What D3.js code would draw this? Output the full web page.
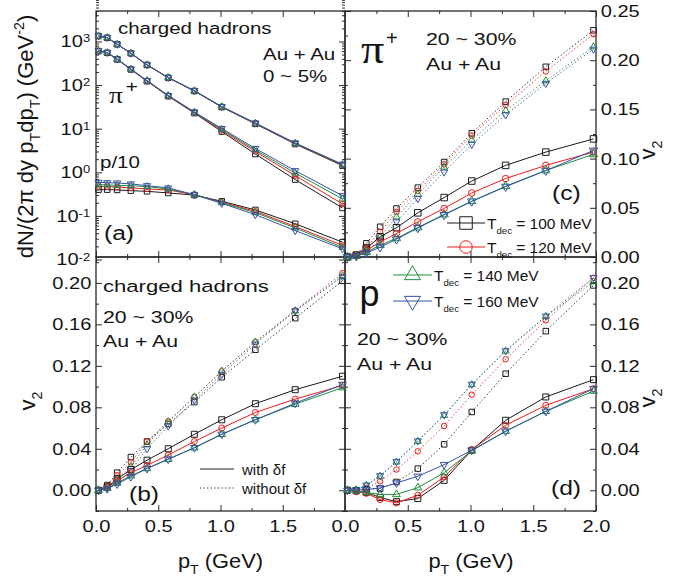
<!DOCTYPE html>
<html>
<head>
<meta charset="utf-8">
<script src="https://cdn.jsdelivr.net/npm/d3@7"></script>
<style>
  body { margin: 0; background: #fff; }
  text { font-family: "Liberation Sans", Arial, sans-serif; fill: #141414; }
</style>
</head>
<body>
<svg id="grafica" width="689" height="576"></svg>
<script>
// valores de pT comunes a todas las curvas
var pT = [0.02, 0.09, 0.17, 0.28, 0.41, 0.58, 0.79, 1.01, 1.28, 1.6, 1.98];

var temperaturas = ["100", "120", "140", "160"];
var colores = ["#1a1a1a", "#f01a1a", "#1f8f3a", "#3552a8"];
var simbolos = ["cuadrado", "circulo", "triangulo", "trianguloAbajo"];

// (a) espectros, un array por temperatura
var espectroHadrones = [
    [1330, 1215, 860, 535, 289, 147, 73, 31.3, 12.9, 4.45, 1.42],
    [1335, 1220, 862, 536, 290, 148, 73.5, 31.6, 13.1, 4.55, 1.46],
    [1340, 1225, 865, 538, 291, 148.5, 74, 31.9, 13.3, 4.62, 1.5],
    [1345, 1230, 868, 540, 292, 149, 74.5, 32.2, 13.5, 4.7, 1.53]
];
var espectroPion = [
    [600, 550, 388, 228, 123, 55.6, 22.8, 8.6, 2.62, 0.68, 0.152],
    [604, 553, 391, 230, 124.5, 56.6, 23.4, 9.1, 3.0, 0.84, 0.188],
    [608, 556, 393, 232, 126, 57.3, 23.8, 9.6, 3.24, 0.96, 0.245],
    [612, 559, 396, 234, 127, 58, 24.2, 10.1, 3.52, 1.09, 0.29]
];
var espectroProton = [
    [0.40, 0.40, 0.394, 0.379, 0.366, 0.336, 0.30, 0.216, 0.137, 0.066, 0.025],
    [0.475, 0.47, 0.461, 0.438, 0.415, 0.394, 0.305, 0.207, 0.127, 0.057, 0.021],
    [0.52, 0.515, 0.501, 0.493, 0.468, 0.415, 0.31, 0.201, 0.119, 0.053, 0.019],
    [0.588, 0.578, 0.569, 0.54, 0.493, 0.438, 0.305, 0.194, 0.107, 0.046, 0.0176]
];

// (b) v2 hadrones cargados
var v2HadronesConDf = [
    [0.0, 0.003, 0.011, 0.020, 0.029, 0.040, 0.054, 0.068, 0.0835, 0.097, 0.110],
    [0.0, 0.003, 0.009, 0.017, 0.024, 0.034, 0.047, 0.060, 0.075, 0.088, 0.101],
    [0.0, 0.002, 0.007, 0.014, 0.021, 0.030, 0.041, 0.054, 0.068, 0.083, 0.099],
    [0.0, 0.0015, 0.006, 0.013, 0.021, 0.030, 0.041, 0.054, 0.068, 0.084, 0.102]
];
var v2HadronesSinDf = [
    [0.0, 0.005, 0.017, 0.032, 0.047, 0.064, 0.085, 0.109, 0.1355, 0.166, 0.202],
    [0.0, 0.004, 0.0145, 0.027, 0.047, 0.0665, 0.090, 0.1147, 0.143, 0.1735, 0.2095],
    [0.0, 0.003, 0.011, 0.023, 0.044, 0.066, 0.090, 0.115, 0.143, 0.173, 0.207],
    [0.0, 0.002, 0.008, 0.019, 0.040, 0.062, 0.087, 0.112, 0.141, 0.173, 0.206]
];

// (c) v2 piones
var v2PionConDf = [
    [0.0, 0.002, 0.009, 0.0205, 0.0297, 0.0449, 0.0604, 0.0772, 0.0931, 0.1066, 0.120],
    [0.0, 0.0015, 0.007, 0.015, 0.024, 0.0357, 0.0493, 0.0651, 0.0797, 0.0931, 0.1066],
    [0.0, 0.001, 0.005, 0.012, 0.019, 0.030, 0.0432, 0.0567, 0.0719, 0.088, 0.1043],
    [0.0, 0.001, 0.004, 0.010, 0.018, 0.0295, 0.0428, 0.0565, 0.0715, 0.0878, 0.1083]
];
var v2PionSinDf = [
    [0.0, 0.002, 0.0139, 0.0307, 0.0493, 0.0705, 0.0965, 0.1258, 0.1579, 0.1933, 0.2304],
    [0.0, 0.0015, 0.0104, 0.0256, 0.0459, 0.0671, 0.0941, 0.1235, 0.1545, 0.1886, 0.2264],
    [0.0, 0.001, 0.0078, 0.0205, 0.0408, 0.0638, 0.0914, 0.119, 0.1488, 0.1791, 0.2136],
    [0.0, 0.001, 0.0054, 0.0172, 0.0357, 0.0594, 0.0863, 0.1144, 0.1444, 0.1764, 0.2112]
];

// (d) v2 protones
var v2ProtonConDf = [
    [0.0, -0.0005, -0.002, -0.007, -0.011, -0.008, 0.0096, 0.0386, 0.0675, 0.090, 0.1067],
    [0.0, -0.0015, -0.003, -0.009, -0.0122, -0.0048, 0.0128, 0.0392, 0.0627, 0.0819, 0.098],
    [0.0, -0.0005, -0.002, -0.004, -0.004, 0.0025, 0.017, 0.038, 0.057, 0.0761, 0.0957],
    [0.0, 0.0002, 0.0007, 0.0022, 0.007, 0.0135, 0.0247, 0.0386, 0.0569, 0.0761, 0.098]
];
var v2ProtonSinDf = [
    [0.0, 0.0, 0.001, 0.0016, 0.008, 0.0209, 0.0443, 0.0755, 0.1124, 0.1535, 0.1976],
    [0.0, 0.0005, 0.0022, 0.0087, 0.020, 0.0376, 0.062, 0.0922, 0.1263, 0.1639, 0.205],
    [0.0, 0.0005, 0.0048, 0.0135, 0.0273, 0.0472, 0.0723, 0.1019, 0.1343, 0.1677, 0.201],
    [0.0, 0.0005, 0.005, 0.014, 0.0276, 0.0476, 0.0728, 0.1022, 0.1345, 0.168, 0.205]
];

// marcas de los ejes
var xMayores = [0, 0.5, 1, 1.5, 2];
var xMenores = [0.25, 0.75, 1.25, 1.75];
var xEtiqIzq = [0, 0.5, 1, 1.5];
var logMayores = [0.01, 0.1, 1, 10, 100, 1000];
var v2Mayores = [0, 0.04, 0.08, 0.12, 0.16, 0.2];
var v2Menores = [-0.02, 0.02, 0.06, 0.1, 0.14, 0.18, 0.22];
var v2PionMayores = [0, 0.05, 0.1, 0.15, 0.2, 0.25];
var v2PionMenores = [0.025, 0.075, 0.125, 0.175, 0.225];

var logMenores = [];
[0.01, 0.1, 1, 10, 100, 1000].forEach(function (b) {
    for (var k = 2; k <= 9; k++) logMenores.push(b * k);
});

var svg = d3.select("#grafica");
var colorEje = "#2a2a2a";
var arriba = 11, medio = 257, abajo = 511;
var izq = 96, centro = 345, der = 596;

var xIzq = d3.scaleLinear().domain([0, 2]).range([izq, centro]);
var xDer = d3.scaleLinear().domain([0, 2]).range([centro, der]);
var yA = d3.scaleLog().domain([0.01, 5000]).range([259.5, arriba]);
var yB = d3.scaleLinear().domain([-0.02, 0.225]).range([abajo, medio]);
var yC = d3.scaleLinear().domain([0, 0.25]).range([medio, arriba]);
var yD = yB.copy();

// texto con sub/superindices; se estira en x como en la figura original
function escribir(x, y, partes, o) {
    var tr = "translate(" + x + "," + y + ") scale(" + (o.sx || 1) + ",1)";
    if (o.rot) tr += " rotate(" + o.rot + ")";
    var t = svg.append("g").attr("transform", tr)
        .append("text")
        .attr("font-size", o.size)
        .attr("text-anchor", o.anchor || "start");
    if (o.familia) t.style("font-family", o.familia);
    var previo = 0;
    partes.forEach(function (p) {
        var tipo = p[1] || "";
        var nuevo = tipo === "sub" ? 0.3 * o.size : (tipo === "sup" ? -0.42 * o.size : 0);
        t.append("tspan")
            .attr("dy", nuevo - previo)
            .attr("font-size", tipo ? o.size * (o.escalaSub || 0.65) : o.size)
            .text(p[0]);
        previo = nuevo;
    });
}

function eje(generador, pos, valores, tam, fmt, relleno) {
    var g = svg.append("g").attr("transform", pos);
    generador.tickValues(valores).tickSize(-tam).tickPadding(relleno || 4)
        .tickFormat(fmt || "");
    g.call(generador);
    g.select(".domain").remove();
    g.selectAll("line").attr("stroke", colorEje).attr("stroke-width", 1);
    g.selectAll("text")
        .attr("font-size", 17)
        .attr("fill", "#141414")
        .style("font-family", '"Liberation Sans", Arial, sans-serif')
        .attr("transform", "scale(1.18,1)");
    return g;
}

var f1 = d3.format(".1f");
var f2 = d3.format(".2f");

function ejesX(x, yArr, yAb, conEtiquetas, etiq) {
    eje(d3.axisTop(x), "translate(0," + yArr + ")", xMayores, 6);
    eje(d3.axisTop(x), "translate(0," + yArr + ")", xMenores, 3);
    eje(d3.axisBottom(x), "translate(0," + yAb + ")", xMayores, 6,
        conEtiquetas ? function (d) { return etiq.indexOf(d) >= 0 ? f1(d) : ""; } : null, 9);
    eje(d3.axisBottom(x), "translate(0," + yAb + ")", xMenores, 3);
}

// marcos
[[izq, arriba, centro, medio], [centro, arriba, der, medio],
 [izq, medio, centro, abajo], [centro, medio, der, abajo]].forEach(function (r) {
    svg.append("rect")
        .attr("x", r[0]).attr("y", r[1])
        .attr("width", r[2] - r[0]).attr("height", r[3] - r[1])
        .attr("fill", "none").attr("stroke", colorEje).attr("stroke-width", 1.3);
});

// ejes panel (a)
ejesX(xIzq, arriba, medio, false);
var ejeLog = eje(d3.axisLeft(yA), "translate(" + izq + ",0)", logMayores, 6, null, 5);
ejeLog.selectAll(".tick text").each(function (d) {
    var t = d3.select(this);
    t.append("tspan").text("10");
    t.append("tspan").attr("dy", "-0.45em").attr("font-size", 11)
        .text(String(Math.round(Math.log10(d))));
});
eje(d3.axisLeft(yA), "translate(" + izq + ",0)", logMenores, 3);
eje(d3.axisRight(yA), "translate(" + centro + ",0)", logMayores, 6);
eje(d3.axisRight(yA), "translate(" + centro + ",0)", logMenores, 3);

// ejes panel (b)
ejesX(xIzq, medio, abajo, true, xEtiqIzq);
eje(d3.axisLeft(yB), "translate(" + izq + ",0)", v2Mayores, 6, f2);
eje(d3.axisLeft(yB), "translate(" + izq + ",0)", v2Menores, 3);
eje(d3.axisRight(yB), "translate(" + centro + ",0)", v2Mayores, 6);
eje(d3.axisRight(yB), "translate(" + centro + ",0)", v2Menores, 3);

// ejes panel (c)
ejesX(xDer, arriba, medio, false);
eje(d3.axisLeft(yC), "translate(" + centro + ",0)", v2PionMayores, 6);
eje(d3.axisLeft(yC), "translate(" + centro + ",0)", v2PionMenores, 3);
eje(d3.axisRight(yC), "translate(" + der + ",0)", v2PionMayores, 6, f2);
eje(d3.axisRight(yC), "translate(" + der + ",0)", v2PionMenores, 3);

// ejes panel (d)
ejesX(xDer, medio, abajo, true, xMayores);
eje(d3.axisLeft(yD), "translate(" + centro + ",0)", v2Mayores, 6);
eje(d3.axisLeft(yD), "translate(" + centro + ",0)", v2Menores, 3);
eje(d3.axisRight(yD), "translate(" + der + ",0)", v2Mayores, 6, f2);
eje(d3.axisRight(yD), "translate(" + der + ",0)", v2Menores, 3);

// simbolos
function formaSimbolo(tipo, d) {
    if (tipo === "cuadrado") return d3.symbol(d3.symbolSquare, d * d)();
    if (tipo === "circulo") return d3.symbol(d3.symbolCircle, Math.PI * d * d / 4)();
    var r = d / 2.7;
    return d3.symbol(d3.symbolTriangle, r * r * 3 * Math.sqrt(3))();
}

function ponerSimbolo(g, tipo, cx, cy, d, color) {
    g.append("path")
        .attr("d", formaSimbolo(tipo, d))
        .attr("transform", "translate(" + cx + "," + cy + ")" + (tipo === "trianguloAbajo" ? " rotate(180)" : ""))
        .attr("fill", "none")
        .attr("stroke", color)
        .attr("stroke-width", 1);
}

function curvas(x, y, series, punteado, tam) {
    var g = svg.append("g");
    var linea = d3.line()
        .x(function (d, i) { return x(pT[i]); })
        .y(function (d) { return y(d); });
    series.forEach(function (valores, k) {
        g.append("path")
            .attr("d", linea(valores))
            .attr("fill", "none")
            .attr("stroke", colores[k])
            .attr("stroke-width", 1)
            .attr("stroke-dasharray", punteado ? "1.2,2.4" : null);
        valores.forEach(function (v, i) {
            ponerSimbolo(g, simbolos[k], x(pT[i]), y(v), tam, colores[k]);
        });
    });
}

// panel (a)
curvas(xIzq, yA, espectroHadrones, false, 5.5);
curvas(xIzq, yA, espectroPion, false, 5.5);
curvas(xIzq, yA, espectroProton, false, 5.5);
// panel (b)
curvas(xIzq, yB, v2HadronesSinDf, true, 5.5);
curvas(xIzq, yB, v2HadronesConDf, false, 6);
// panel (c)
curvas(xDer, yC, v2PionSinDf, true, 5.5);
curvas(xDer, yC, v2PionConDf, false, 6.5);
// panel (d)
curvas(xDer, yD, v2ProtonSinDf, true, 5.5);
curvas(xDer, yD, v2ProtonConDf, false, 6);

// leyenda de temperaturas (repartida entre (c) y (d))
var leyenda = [
    { x0: 447, x1: 485, y: 223, tx: 487 },
    { x0: 447, x1: 485, y: 247, tx: 487 },
    { x0: 393, x1: 432, y: 275, tx: 434 },
    { x0: 393, x1: 432, y: 301, tx: 434 }
];
var gLey = svg.append("g");
leyenda.forEach(function (l, k) {
    gLey.append("line")
        .attr("x1", l.x0).attr("x2", l.x1).attr("y1", l.y).attr("y2", l.y)
        .attr("stroke", colores[k]).attr("stroke-width", 1);
    ponerSimbolo(gLey, simbolos[k], (l.x0 + l.x1) / 2, l.y, 12.5, colores[k]);
    escribir(l.tx, l.y + 6, [["T"], ["dec", "sub"], [" = " + temperaturas[k] + " MeV"]],
        { size: 15.5, escalaSub: 0.62 });
});

// leyenda with / without δf
svg.append("line").attr("x1", 200).attr("x2", 234).attr("y1", 469).attr("y2", 469)
    .attr("stroke", "#222").attr("stroke-width", 1);
svg.append("line").attr("x1", 200).attr("x2", 234).attr("y1", 488).attr("y2", 488)
    .attr("stroke", "#222").attr("stroke-width", 1).attr("stroke-dasharray", "1.2,2.4");
escribir(242, 474.5, [["with δf"]], { size: 15 });
escribir(242, 493.5, [["without δf"]], { size: 15 });

// anotaciones
var serif = '"Liberation Serif", "DejaVu Serif", serif';
escribir(118, 34, [["charged hadrons"]], { size: 16, sx: 1.28 });
escribir(263, 60, [["Au + Au"]], { size: 16, sx: 1.28 });
escribir(263, 82, [["0 ~ 5%"]], { size: 16, sx: 1.28 });
escribir(109, 103, [["π"]], { size: 23, sx: 1.2, familia: serif });
escribir(125.5, 92, [["+"]], { size: 17, sx: 1.25 });
escribir(100, 168, [["p/10"]], { size: 16, sx: 1.28 });
escribir(104, 239.5, [["(a)"]], { size: 20, sx: 1.23 });

escribir(103, 292, [["charged hadrons"]], { size: 17, sx: 1.3 });
escribir(103, 323, [["20 ~ 30%"]], { size: 17, sx: 1.25 });
escribir(103, 347, [["Au + Au"]], { size: 17, sx: 1.25 });
escribir(129, 501, [["(b)"]], { size: 20, sx: 1.23 });

escribir(361, 63, [["π"]], { size: 40, sx: 1.15, familia: serif });
escribir(386, 44.5, [["+"]], { size: 20 });
escribir(426, 45, [["20 ~ 30%"]], { size: 17, sx: 1.25 });
escribir(426, 70, [["Au + Au"]], { size: 17, sx: 1.25 });
escribir(552, 200, [["(c)"]], { size: 20, sx: 1.23 });

escribir(359.5, 306, [["p"]], { size: 36 });
escribir(357, 345, [["20 ~ 30%"]], { size: 17, sx: 1.25 });
escribir(357, 370, [["Au + Au"]], { size: 17, sx: 1.25 });
escribir(551, 495, [["(d)"]], { size: 20, sx: 1.23 });

// titulos de ejes
escribir(33, 136.5, [["dN/(2π dy p"], ["T", "sub"], ["dp"], ["T", "sub"], [") (GeV"], ["-2", "sup"], [")"]],
    { size: 22, rot: -90, anchor: "middle" });
escribir(35, 401, [["v"], ["2", "sub"]], { size: 22, rot: -90, anchor: "middle" });
escribir(655, 150, [["v"], ["2", "sub"]], { size: 22, rot: -90, anchor: "middle" });
escribir(655, 398, [["v"], ["2", "sub"]], { size: 22, rot: -90, anchor: "middle" });
escribir(220.5, 568, [["p"], ["T", "sub"], [" (GeV)"]], { size: 21, sx: 1.04, anchor: "middle" });
escribir(471, 568, [["p"], ["T", "sub"], [" (GeV)"]], { size: 21, sx: 1.04, anchor: "middle" });
</script>
</body>
</html>
